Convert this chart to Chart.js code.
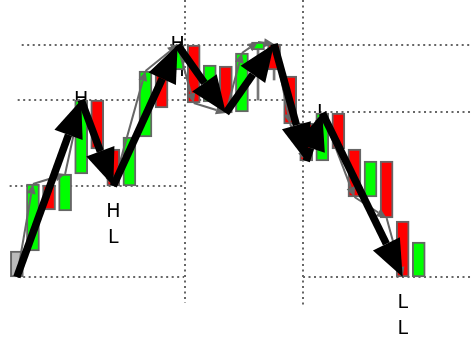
<!DOCTYPE html>
<html>
<head>
<meta charset="utf-8">
<script src="https://cdn.jsdelivr.net/npm/chart.js@4"></script>
<style>
  html, body { margin: 0; padding: 0; background: #fff; }
  #wrap { width: 471px; height: 342px; }
</style>
</head>
<body>
<div id="wrap"><canvas id="swingChart"></canvas></div>
<script>
// Kerzen (Körper) – Index 0..25
const opens  = [6.5, 9.1, 15.7, 13.1, 16.8, 24.2, 19.3, 15.6, 20.5, 27.1, 27.2, 29.7, 24.0, 27.6, 23.0, 29.2, 29.8, 26.6, 21.9, 18.1, 22.9, 19.3, 14.5, 18.1, 12.1, 6.5];
const closes = [9.1, 15.8, 13.2, 16.8, 24.2, 19.3, 15.6, 20.5, 27.1, 23.4, 29.7, 23.9, 27.7, 22.9, 28.9, 30.0, 27.2, 21.8, 18.1, 22.9, 19.3, 14.5, 18.1, 12.4, 6.5, 10.0];
const wickLows  = [null, null, null, null, null, null, null, null, null, null, null, null, null, null, null, 24.2, 26.2, null, null, null, null, null, null, null, null, null];
const neutralBars = [0];

// Kleine Zickzack-Linie (grau)
const minorIdx = [0, 1, 3, 4, 6, 8, 10, 11, 13, 14, 15, 16, 17, 18, 19, 21, 23, 24];
const minorVal = [6.5, 15.8, 16.8, 24.2, 15.6, 27.1, 29.7, 23.9, 22.9, 28.9, 30.0, 29.8, 21.8, 18.1, 22.9, 14.5, 12.4, 6.5];

// Grosse Swings (schwarz)
const swingIdx = [0, 4, 6, 10, 13, 16, 18, 19, 24];
const swingVal = [6.5, 24.2, 15.6, 29.7, 22.9, 29.8, 18.1, 22.9, 6.5];

// Beschriftungen
const labelIdx  = [4, 6, 10, 19, 24];
const labelVal  = [24.2, 15.6, 29.7, 22.9, 6.5];
const labelText = ['HH', 'HL', 'HH', 'LH', 'LL'];
const labelSide = ['top', 'bottom', 'top', 'top', 'bottom'];

// Niveaus (gepunktet)
const levelValues = [29.7, 24.2, 15.6, 6.5, 23.0, 6.5];
const levelFrom   = [0.3, 0.05, -0.45, 0.05, 17.8, 17.8];
const levelTo     = [28.3, 17.6, 10.4, 10.4, 28.3, 28.3];
const breakX      = [10.45, 17.8];
const breakBottom = [3.9, 3.4];

const bodies = opens.map((o, i) => ({ x: i, y: [Math.min(o, closes[i]), Math.max(o, closes[i])] }));
const wicks = wickLows.map((w, i) => w === null ? null : { x: i, y: [w, Math.min(opens[i], closes[i])] }).filter(Boolean);
const bodyColors = opens.map((o, i) => {
    if (neutralBars.includes(i)) return '#bbbbbb';
    return closes[i] > opens[i] ? '#00ff00' : '#ff0000';
});

function arrow(ctx, x1, y1, x2, y2, width, headLen, headHalf, color) {
    const ang = Math.atan2(y2 - y1, x2 - x1);
    const bx = x2 - Math.cos(ang) * headLen;
    const by = y2 - Math.sin(ang) * headLen;
    ctx.strokeStyle = color;
    ctx.fillStyle = color;
    ctx.lineWidth = width;
    ctx.lineCap = 'butt';
    ctx.beginPath();
    ctx.moveTo(x1, y1);
    ctx.lineTo(bx, by);
    ctx.stroke();
    ctx.beginPath();
    ctx.moveTo(x2, y2);
    ctx.lineTo(bx - Math.sin(ang) * headHalf, by + Math.cos(ang) * headHalf);
    ctx.lineTo(bx + Math.sin(ang) * headHalf, by - Math.cos(ang) * headHalf);
    ctx.closePath();
    ctx.fill();
}

const overlayPlugin = {
    id: 'swingOverlay',
    beforeDatasetsDraw(chart) {
        const ctx = chart.ctx;
        const xs = chart.scales.x, ys = chart.scales.y;
        ctx.save();
        // gepunktete Niveaus
        ctx.strokeStyle = '#666';
        ctx.lineWidth = 2;
        ctx.setLineDash([2, 3.5]);
        levelValues.forEach((v, i) => {
            const y = Math.round(ys.getPixelForValue(v));
            ctx.beginPath();
            ctx.moveTo(xs.getPixelForValue(levelFrom[i]), y);
            ctx.lineTo(xs.getPixelForValue(levelTo[i]), y);
            ctx.stroke();
        });
        breakX.forEach((bx, i) => {
            const x = Math.round(xs.getPixelForValue(bx));
            ctx.beginPath();
            ctx.moveTo(x, 0);
            ctx.lineTo(x, ys.getPixelForValue(breakBottom[i]));
            ctx.stroke();
        });
        ctx.setLineDash([]);
        // Beschriftungen (unter den Kerzen)
        ctx.fillStyle = '#000';
        ctx.font = '19px "DejaVu Sans", sans-serif';
        ctx.textAlign = 'center';
        labelIdx.forEach((idx, i) => {
            const x = xs.getPixelForValue(idx);
            const y = ys.getPixelForValue(labelVal[i]);
            labelText[i].split('').forEach((c, k) => {
                if (labelSide[i] === 'top') {
                    ctx.textBaseline = 'alphabetic';
                    ctx.fillText(c, x, y + 5 + k * 26);
                } else {
                    ctx.textBaseline = 'top';
                    ctx.fillText(c, x, y + 17 + k * 26);
                }
            });
        });
        ctx.restore();
    },
    afterDatasetsDraw(chart) {
        const ctx = chart.ctx;
        const xs = chart.scales.x, ys = chart.scales.y;
        ctx.save();
        for (let i = 1; i < minorIdx.length; i++) {
            arrow(ctx,
                xs.getPixelForValue(minorIdx[i - 1]), ys.getPixelForValue(minorVal[i - 1]),
                xs.getPixelForValue(minorIdx[i]), ys.getPixelForValue(minorVal[i]),
                2, 10, 4.5, '#666');
        }
        for (let i = 1; i < swingIdx.length; i++) {
            arrow(ctx,
                xs.getPixelForValue(swingIdx[i - 1]), ys.getPixelForValue(swingVal[i - 1]),
                xs.getPixelForValue(swingIdx[i]), ys.getPixelForValue(swingVal[i]),
                7.5, 37, 15, '#000');
        }
        ctx.restore();
    }
};

new Chart(document.getElementById('swingChart').getContext('2d'), {
    type: 'bar',
    data: {
        datasets: [{
            label: 'Docht',
            data: wicks,
            backgroundColor: '#777',
            borderWidth: 0,
            barThickness: 2,
            grouped: false,
            order: 2
        }, {
            label: 'Kerzen',
            data: bodies,
            backgroundColor: bodyColors,
            borderColor: '#666',
            borderWidth: 2,
            borderSkipped: false,
            barThickness: 13,
            grouped: false,
            order: 1
        }]
    },
    options: {
        responsive: true,
        maintainAspectRatio: false,
        animation: false,
        layout: { padding: 0 },
        plugins: {
            legend: { display: false },
            tooltip: { enabled: false }
        },
        scales: {
            x: { type: 'linear', min: -1.05, max: 28.25, offset: false, display: false },
            y: { min: 0, max: 34.2, display: false }
        }
    },
    plugins: [overlayPlugin]
});
</script>
</body>
</html>
